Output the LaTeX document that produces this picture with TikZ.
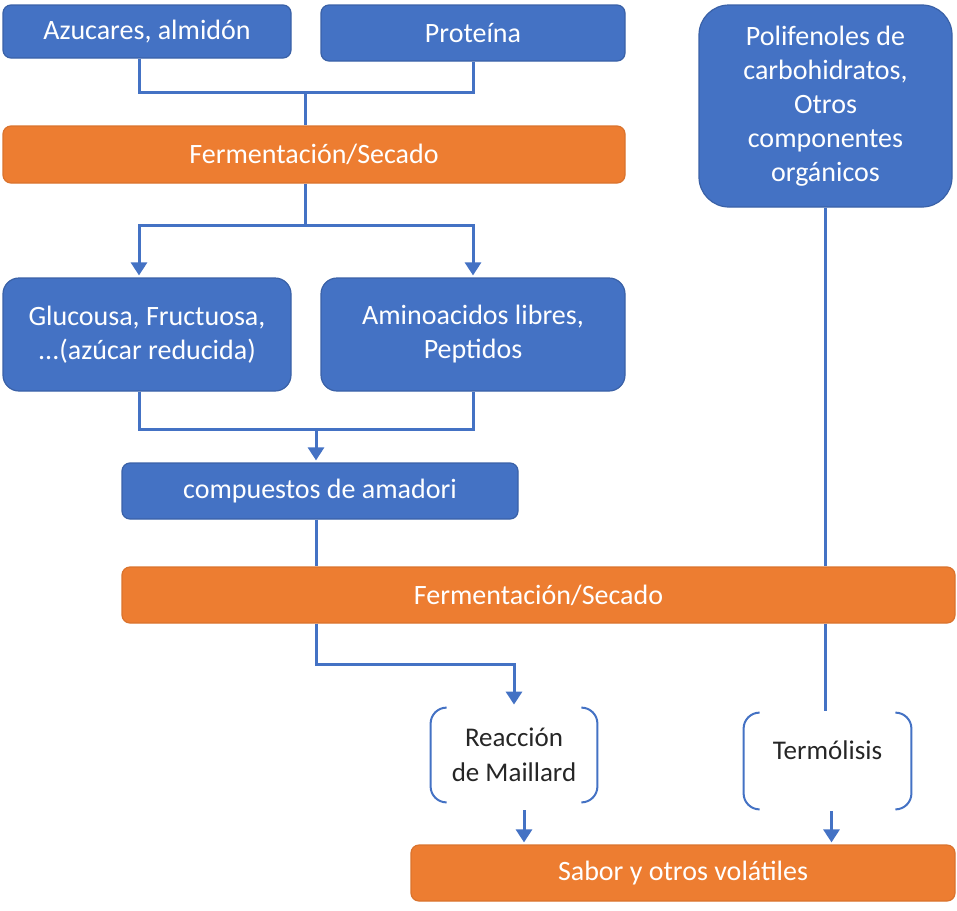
\documentclass[tikz,border=0pt]{standalone}
\usepackage{fontspec}
\setmainfont{Carlito}
\usetikzlibrary{arrows.meta}
\definecolor{boxblue}{HTML}{4472C4}
\definecolor{boxorange}{HTML}{ED7D31}
\definecolor{lineblue}{HTML}{4472C4}
\tikzset{
  bluebox/.style={fill=boxblue, draw=boxblue!85!black, line width=0.6pt, rounded corners=4pt,
    text=white, align=center, inner sep=0pt, font=\fontsize{14}{17}\selectfont},
  orangebox/.style={bluebox, fill=boxorange, draw=boxorange!92!black},
  plainbox/.style={align=center, inner sep=0pt, text=black!85, font=\fontsize{13.5}{17.5}\selectfont},
  link/.style={draw=lineblue, line width=1.5pt},
  arrow/.style={link, -{Triangle[width=8pt,length=6.5pt]}},
  bracket/.style={draw=lineblue, line width=1pt, rounded corners=8pt},
}
\begin{document}
\begin{tikzpicture}[x=0.5pt,y=-0.5pt]
    \useasboundingbox (0,0) rectangle (957,910);
    % top row
    \node[bluebox, minimum width=144pt, minimum height=26.5pt] (azu) at (147,31.5) {Azucares, almidón};
    \node[bluebox, minimum width=152pt, minimum height=28pt] (prot) at (473,33) {Proteína};
    \node[bluebox, rounded corners=15pt, minimum width=126.5pt, minimum height=101pt] (poli) at (825.5,106)
        {Polifenoles de\\carbohidratos,\\Otros\\componentes\\orgánicos};
    \node[orangebox, minimum width=311pt, minimum height=28.5pt] (ferm1) at (314,154.5) {Fermentación/Secado};
    % middle row
    \node[bluebox, rounded corners=8pt, minimum width=144pt, minimum height=56.5pt] (gluc) at (147,334.5)
        {Glucousa, Fructuosa,\\...(azúcar reducida)};
    \node[bluebox, rounded corners=8pt, minimum width=152pt, minimum height=56.5pt] (amino) at (473,334.5)
        {Aminoacidos libres,\\Peptidos};
    \node[bluebox, minimum width=198pt, minimum height=28pt] (amad) at (320,491) {compuestos de amadori};
    \node[orangebox, minimum width=416.5pt, minimum height=28pt] (ferm2) at (538.5,595) {Fermentación/Secado};
    % bottom row
    \node[plainbox, minimum width=83pt, minimum height=47pt] (mail) at (514,755) {Reacción\\de Maillard};
    \node[plainbox, minimum width=83.5pt, minimum height=48pt] (term) at (827.5,761) {\raisebox{11pt}{Termólisis}};
    \node[orangebox, minimum width=272pt, minimum height=28pt] (sabor) at (683,873) {Sabor y otros volátiles};
    \foreach \n in {mail,term}{
        \draw[bracket] ([xshift=8pt]\n.north west) -- (\n.north west) -- (\n.south west) -- ([xshift=8pt]\n.south west);
        \draw[bracket] ([xshift=-8pt]\n.north east) -- (\n.north east) -- (\n.south east) -- ([xshift=-8pt]\n.south east);
    }
    % connectors
    \coordinate (j1) at (305,92);
    \coordinate (j2) at (305,225);
    \coordinate (j3) at (316,429);
    \coordinate (j4) at (514,664);
    \draw[link] ([xshift=-4pt]azu.south) |- (j1) -| (prot.south);
    \draw[link] (j1) -- (j1 |- ferm1.north);
    \draw[link] (j1 |- ferm1.south) -- (j2);
    \draw[arrow] (j2) -| ([xshift=-4pt,yshift=1pt]gluc.north);
    \draw[arrow] (j2) -| ([yshift=1pt]amino.north);
    \draw[link] ([xshift=-4pt]gluc.south) |- (j3) -| (amino.south);
    \draw[arrow] (j3) -- ([yshift=1pt]j3 |- amad.north);
    \draw[link] (j3 |- amad.south) -- (j3 |- ferm2.north);
    \draw[arrow] (j3 |- ferm2.south) |- (j4) -- ([yshift=1.5pt]mail.north);
    \draw[link] (poli.south) -- (poli.south |- ferm2.north);
    \draw[link] (poli.south |- ferm2.south) -- ([yshift=1pt]poli.south |- term.north);
    \draw[arrow] ([xshift=5pt,yshift=-4pt]mail.south) -- ([xshift=5pt,yshift=1pt]mail.south |- sabor.north);
    \draw[arrow] ([xshift=2pt,yshift=-1pt]term.south) -- ([xshift=2pt,yshift=1pt]term.south |- sabor.north);
\end{tikzpicture}
\end{document}
